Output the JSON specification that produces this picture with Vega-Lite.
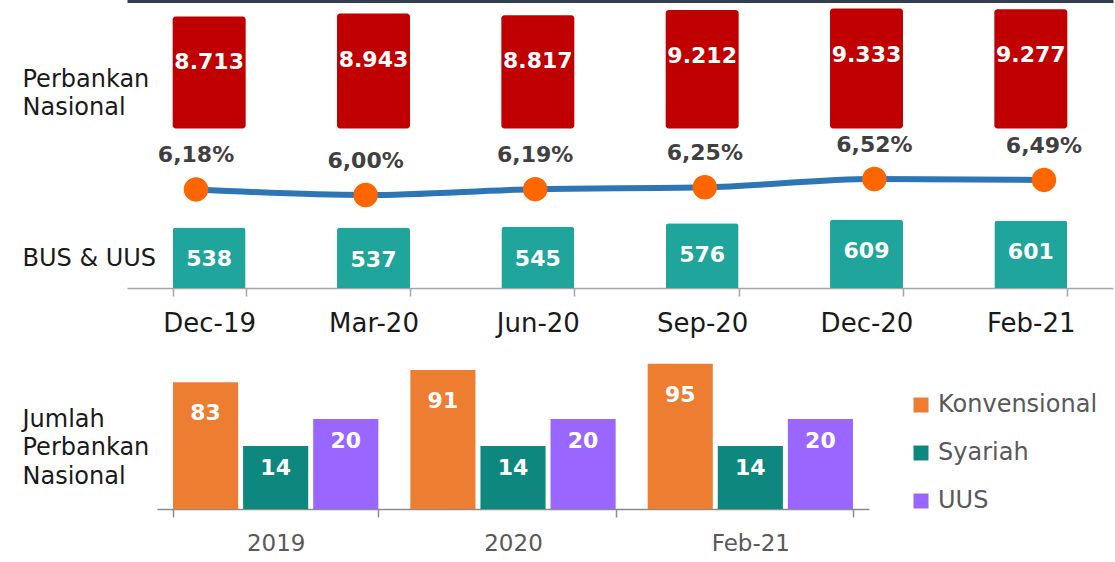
{
  "$schema": "https://vega.github.io/schema/vega-lite/v6.json",
  "padding": {"top": 0, "left": 22, "right": 2, "bottom": 2},
  "background": "white",
  "spacing": 20,
  "config": {
    "locale": {"number": {"decimal": ",", "thousands": ".", "grouping": [3], "currency": ["Rp", ""]}},
    "font": "DejaVu Sans",
    "view": {"stroke": null},
    "axis": {"grid": false}
  },
  "datasets": {
    "top": [
      {"periode": "Dec-19", "nasional": 8713, "bus": 538, "pangsa": 0.0618},
      {"periode": "Mar-20", "nasional": 8943, "bus": 537, "pangsa": 0.0600},
      {"periode": "Jun-20", "nasional": 8817, "bus": 545, "pangsa": 0.0619},
      {"periode": "Sep-20", "nasional": 9212, "bus": 576, "pangsa": 0.0625},
      {"periode": "Dec-20", "nasional": 9333, "bus": 609, "pangsa": 0.0652},
      {"periode": "Feb-21", "nasional": 9277, "bus": 601, "pangsa": 0.0649}
    ],
    "bottom": [
      {"tahun": "2019", "jenis": "Konvensional", "jumlah": 83},
      {"tahun": "2019", "jenis": "Syariah", "jumlah": 14},
      {"tahun": "2019", "jenis": "UUS", "jumlah": 20},
      {"tahun": "2020", "jenis": "Konvensional", "jumlah": 91},
      {"tahun": "2020", "jenis": "Syariah", "jumlah": 14},
      {"tahun": "2020", "jenis": "UUS", "jumlah": 20},
      {"tahun": "Feb-21", "jenis": "Konvensional", "jumlah": 95},
      {"tahun": "Feb-21", "jenis": "Syariah", "jumlah": 14},
      {"tahun": "Feb-21", "jenis": "UUS", "jumlah": 20}
    ]
  },
  "vconcat": [
    {
      "width": 986,
      "height": 282,
      "data": {"name": "top"},
      "layer": [
        {
          "layer": [
            {
              "mark": {"type": "bar", "color": "#C00000", "cornerRadius": 3},
              "encoding": {
                "x": {
                  "field": "periode", "type": "nominal", "sort": null,
                  "scale": {"paddingInner": 0.556, "paddingOuter": 0.278},
                  "axis": {
                    "title": null, "orient": "bottom", "labelAngle": 0,
                    "domainColor": "#A6A6A6", "domainWidth": 1.5,
                    "tickColor": "#A6A6A6", "tickWidth": 1.5, "tickSize": 8, "tickBand": "extent",
                    "labelFontSize": 26, "labelColor": "#1a1a1a", "labelPadding": 14, "labelFont": "DejaVu Sans"
                  }
                },
                "y": {
                  "field": "nasional", "type": "quantitative",
                  "scale": {"domain": [-12406, 9528], "zero": false, "nice": false},
                  "axis": {
                    "orient": "left", "title": ["Perbankan", "Nasional"], "titleAngle": 0,
                    "titleAlign": "left", "titleBaseline": "middle", "titleX": -105, "titleY": 73.5,
                    "titleFontSize": 24, "titleFontWeight": "normal", "titleColor": "#1a1a1a",
                    "titleLineHeight": 28, "titleFont": "DejaVu Sans",
                    "labels": false, "ticks": false, "domain": false, "grid": false
                  }
                },
                "y2": {"datum": 0}
              }
            },
            {
              "mark": {"type": "text", "color": "white", "fontWeight": "bold", "fontSize": 22, "baseline": "middle", "dy": 46},
              "encoding": {
                "x": {"field": "periode", "type": "nominal", "sort": null},
                "y": {"field": "nasional", "type": "quantitative"},
                "text": {"field": "nasional", "type": "quantitative", "format": ",d"}
              }
            }
          ]
        },
        {
          "layer": [
            {
              "mark": {"type": "line", "color": "#2E75B6", "strokeWidth": 6, "interpolate": "monotone"},
              "encoding": {
                "x": {
                  "field": "periode", "type": "nominal", "sort": null,
                  "scale": {"type": "point", "padding": 0.407},
                  "axis": {
                    "orient": "top", "title": null, "labels": false, "ticks": false,
                    "domainColor": "#323F4F", "domainWidth": 5, "offset": 6
                  }
                },
                "y": {
                  "field": "pangsa", "type": "quantitative",
                  "scale": {"domain": [0.0298, 0.12136], "zero": false, "nice": false},
                  "axis": null
                }
              }
            },
            {
              "mark": {"type": "point", "filled": true, "color": "#FF6600", "size": 600, "opacity": 1},
              "encoding": {
                "x": {"field": "periode", "type": "nominal", "sort": null},
                "y": {"field": "pangsa", "type": "quantitative"}
              }
            },
            {
              "mark": {"type": "text", "color": "#404040", "fontWeight": "bold", "fontSize": 22, "baseline": "middle", "dy": -34},
              "encoding": {
                "x": {"field": "periode", "type": "nominal", "sort": null},
                "y": {"field": "pangsa", "type": "quantitative"},
                "text": {"field": "pangsa", "type": "quantitative", "format": ".2%"}
              }
            }
          ]
        },
        {
          "layer": [
            {
              "mark": {"type": "bar", "color": "#1FA59C", "cornerRadiusTopLeft": 3, "cornerRadiusTopRight": 3},
              "encoding": {
                "x": {
                  "field": "periode", "type": "nominal", "sort": null,
                  "scale": {"paddingInner": 0.556, "paddingOuter": 0.278},
                  "axis": null
                },
                "y": {
                  "field": "bus", "type": "quantitative",
                  "scale": {"domain": [0, 2507], "nice": false},
                  "axis": {
                    "orient": "left", "title": "BUS & UUS", "titleAngle": 0,
                    "titleAlign": "left", "titleBaseline": "middle", "titleX": -105, "titleY": 252.5,
                    "titleFontSize": 24, "titleFontWeight": "normal", "titleColor": "#1a1a1a",
                    "titleFont": "DejaVu Sans",
                    "labels": false, "ticks": false, "domain": false, "grid": false
                  }
                }
              }
            },
            {
              "mark": {"type": "text", "color": "white", "fontWeight": "bold", "fontSize": 22, "baseline": "middle", "dy": 32},
              "encoding": {
                "x": {"field": "periode", "type": "nominal", "sort": null},
                "y": {"field": "bus", "type": "quantitative"},
                "text": {"field": "bus", "type": "quantitative", "format": ",d"}
              }
            }
          ]
        }
      ],
      "resolve": {
        "scale": {"x": "independent", "y": "independent"},
        "axis": {"x": "independent", "y": "independent"}
      }
    },
    {
      "width": 742,
      "height": 153,
      "data": {"name": "bottom"},
      "encoding": {
        "x": {
          "field": "tahun", "type": "nominal", "sort": null,
          "scale": {"paddingInner": 0.135, "paddingOuter": 0.0675, "range": [30, 742]},
          "axis": {
            "title": null, "labelAngle": 0,
            "domainColor": "#8C8C8C", "domainWidth": 1.5,
            "tickColor": "#8C8C8C", "tickWidth": 1.5, "tickSize": 8, "tickBand": "extent",
            "labelFontSize": 23, "labelColor": "#595959", "labelPadding": 15, "labelFont": "DejaVu Sans"
          }
        },
        "xOffset": {
          "field": "jenis", "type": "nominal",
          "scale": {"domain": ["Konvensional", "Syariah", "UUS"], "paddingInner": 0.071, "paddingOuter": 0}
        }
      },
      "layer": [
        {
          "transform": [{"filter": "datum.jenis === 'Konvensional'"}],
          "layer": [
            {
              "mark": {"type": "bar"},
              "encoding": {
                "y": {
                  "field": "jumlah", "type": "quantitative",
                  "scale": {"domain": [0, 100.1], "nice": false},
                  "axis": {
                    "orient": "left", "title": ["Jumlah", "Perbankan", "Nasional"], "titleAngle": 0,
                    "titleAlign": "left", "titleBaseline": "middle", "titleX": -105, "titleY": 63,
                    "titleFontSize": 24, "titleFontWeight": "normal", "titleColor": "#1a1a1a",
                    "titleLineHeight": 28.5, "titleFont": "DejaVu Sans",
                    "labels": false, "ticks": false, "domain": false, "grid": false
                  }
                },
                "color": {
                  "field": "jenis", "type": "nominal",
                  "scale": {"domain": ["Konvensional", "Syariah", "UUS"], "range": ["#ED7D31", "#0E877F", "#9966FF"]},
                  "legend": {
                    "orient": "none", "legendX": 782, "legendY": 387, "title": null,
                    "symbolType": "square", "symbolSize": 225, "symbolStrokeWidth": 0,
                    "labelFontSize": 24, "labelColor": "#595959", "labelFont": "DejaVu Sans",
                    "labelOffset": 5, "rowPadding": 24
                  }
                }
              }
            },
            {
              "mark": {"type": "text", "color": "white", "fontWeight": "bold", "fontSize": 22, "baseline": "middle", "dy": 31},
              "encoding": {
                "y": {"field": "jumlah", "type": "quantitative"},
                "text": {"field": "jumlah", "type": "quantitative"}
              }
            }
          ]
        },
        {
          "transform": [{"filter": "datum.jenis !== 'Konvensional'"}],
          "layer": [
            {
              "mark": {"type": "bar"},
              "encoding": {
                "y": {
                  "field": "jumlah", "type": "quantitative",
                  "scale": {"domain": [0, 34], "nice": false},
                  "axis": null
                },
                "color": {"field": "jenis", "type": "nominal"}
              }
            },
            {
              "mark": {"type": "text", "color": "white", "fontWeight": "bold", "fontSize": 22, "baseline": "middle", "dy": 22},
              "encoding": {
                "y": {"field": "jumlah", "type": "quantitative"},
                "text": {"field": "jumlah", "type": "quantitative"}
              }
            }
          ]
        }
      ],
      "resolve": {"scale": {"y": "independent"}, "axis": {"y": "independent"}}
    }
  ]
}
